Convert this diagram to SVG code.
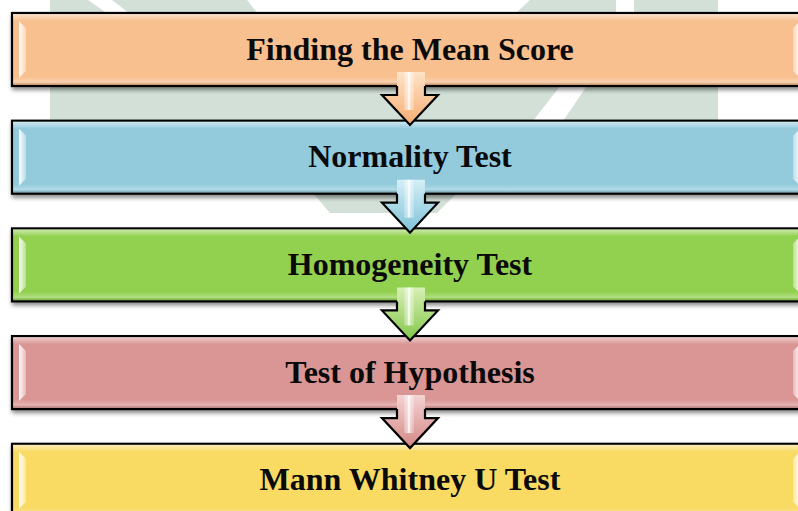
<svg xmlns="http://www.w3.org/2000/svg" width="798" height="511" viewBox="0 0 798 511">
  <defs>
    <style>
      .wm { fill: #d2e0d7; }
      .box { stroke: #000; stroke-width: 2.2; filter: url(#shadow); }
      .sheen { fill: url(#sheenGrad); }
      .bevel-l { fill: url(#bevelL); }
      .bevel-r { fill: url(#bevelR); }
      .label { font-family: "Liberation Serif", "Times New Roman", serif; font-weight: bold; font-size: 32px; fill: #0a0a0a; text-anchor: middle; }
      .arrow-line { fill: none; stroke: #000; stroke-width: 2.2; stroke-linejoin: miter; }
      .glint { fill: url(#glint); }
    </style>
    <filter id="shadow" x="-5%" y="-20%" width="110%" height="150%">
      <feDropShadow dx="1" dy="3" stdDeviation="2" flood-color="#000" flood-opacity="0.45"/>
    </filter>
    <linearGradient id="sheenGrad" x1="0" y1="0" x2="0" y2="1">
      <stop offset="0" stop-color="#fff" stop-opacity="0.55"/>
      <stop offset="0.1" stop-color="#fff" stop-opacity="0"/>
      <stop offset="0.88" stop-color="#fff" stop-opacity="0"/>
      <stop offset="0.96" stop-color="#fff" stop-opacity="0.3"/>
      <stop offset="1" stop-color="#000" stop-opacity="0.12"/>
    </linearGradient>
    <linearGradient id="bevelL" x1="0" y1="0" x2="1" y2="0">
      <stop offset="0" stop-color="#fff" stop-opacity="0.95"/>
      <stop offset="1" stop-color="#fff" stop-opacity="0.35"/>
    </linearGradient>
    <linearGradient id="bevelR" x1="1" y1="0" x2="0" y2="0">
      <stop offset="0" stop-color="#fff" stop-opacity="0.95"/>
      <stop offset="1" stop-color="#fff" stop-opacity="0.35"/>
    </linearGradient>
    <linearGradient id="glint" x1="0" y1="0" x2="1" y2="0">
      <stop offset="0" stop-color="#fff" stop-opacity="0.2"/>
      <stop offset="0.35" stop-color="#fff" stop-opacity="0.5"/>
      <stop offset="0.5" stop-color="#fff" stop-opacity="1"/>
      <stop offset="0.65" stop-color="#fff" stop-opacity="0.5"/>
      <stop offset="1" stop-color="#fff" stop-opacity="0.2"/>
    </linearGradient>
    <linearGradient id="arrowOrange" x1="0" y1="0" x2="0" y2="1">
      <stop offset="0" stop-color="#fde3c8"/>
      <stop offset="1" stop-color="#f6ad72"/>
    </linearGradient>
    <linearGradient id="arrowBlue" x1="0" y1="0" x2="0" y2="1">
      <stop offset="0" stop-color="#d4eef6"/>
      <stop offset="1" stop-color="#7ec2d8"/>
    </linearGradient>
    <linearGradient id="arrowGreen" x1="0" y1="0" x2="0" y2="1">
      <stop offset="0" stop-color="#d6f0b4"/>
      <stop offset="1" stop-color="#84c649"/>
    </linearGradient>
    <linearGradient id="arrowRose" x1="0" y1="0" x2="0" y2="1">
      <stop offset="0" stop-color="#f3d3d2"/>
      <stop offset="1" stop-color="#d48784"/>
    </linearGradient>
    <!-- one step box: sheen and side bevels -->
    <g id="boxDeco">
      <rect class="sheen" x="13" y="1" width="794" height="71"/>
      <polygon class="bevel-l" points="19,8 26,15 26,58 19,65"/>
      <polygon class="bevel-r" points="800,8 793,15 793,58 800,65"/>
    </g>
    <!-- down arrow body -->
    <polygon id="arrowShape" points="397,-14 425,-14 425,9 438,9 410,39 382,9 397,9"/>
  </defs>

  <!-- background emblem -->
  <g id="emblem">
    <polygon class="wm" points="50,0 88,0 108,14 50,14"/>
    <polygon class="wm" points="112,0 247,0 258,14 130,14"/>
    <polygon class="wm" points="530,0 616,0 616,14 515,14"/>
    <rect class="wm" x="634" y="0" width="84" height="14"/>
    <polygon class="wm" points="50,86 560,86 533,121 50,121"/>
    <polygon class="wm" points="587,86 718,86 718,121 563,121"/>
    <polygon class="wm" points="313,193 457,193 437,213 330,213"/>
  </g>

  <g id="step1">
    <rect class="box" x="12" y="13" width="795" height="73" fill="#f8bf8f"/>
    <use href="#boxDeco" transform="translate(0,13)"/>
    <text class="label" x="410" y="60">Finding the Mean Score</text>
  </g>
  <g id="step2">
    <rect class="box" x="12" y="120.7" width="795" height="73" fill="#93cbdc"/>
    <use href="#boxDeco" transform="translate(0,120.7)"/>
    <text class="label" x="410" y="167">Normality Test</text>
  </g>
  <g id="step3">
    <rect class="box" x="12" y="228.4" width="795" height="73" fill="#92d050"/>
    <use href="#boxDeco" transform="translate(0,228.4)"/>
    <text class="label" x="410" y="275">Homogeneity Test</text>
  </g>
  <g id="step4">
    <rect class="box" x="12" y="336.1" width="795" height="73" fill="#d99694"/>
    <use href="#boxDeco" transform="translate(0,336.1)"/>
    <text class="label" x="410" y="383">Test of Hypothesis</text>
  </g>
  <g id="step5">
    <rect class="box" x="12" y="443.8" width="795" height="73" fill="#f9da62"/>
    <use href="#boxDeco" transform="translate(0,443.8)"/>
    <text class="label" x="410" y="490">Mann Whitney U Test</text>
  </g>

  <g id="connectors">
    <g transform="translate(0,86)">
      <use href="#arrowShape" fill="url(#arrowOrange)"/>
      <rect class="glint" x="404" y="-14" width="10" height="38"/>
      <path class="arrow-line" d="M397,0 V9 H382 L410,39 L438,9 H425 V0"/>
    </g>
    <g transform="translate(0,193.7)">
      <use href="#arrowShape" fill="url(#arrowBlue)"/>
      <rect class="glint" x="404" y="-14" width="10" height="38"/>
      <path class="arrow-line" d="M397,0 V9 H382 L410,39 L438,9 H425 V0"/>
    </g>
    <g transform="translate(0,301.4)">
      <use href="#arrowShape" fill="url(#arrowGreen)"/>
      <rect class="glint" x="404" y="-14" width="10" height="38"/>
      <path class="arrow-line" d="M397,0 V9 H382 L410,39 L438,9 H425 V0"/>
    </g>
    <g transform="translate(0,409.1)">
      <use href="#arrowShape" fill="url(#arrowRose)"/>
      <rect class="glint" x="404" y="-14" width="10" height="38"/>
      <path class="arrow-line" d="M397,0 V9 H382 L410,39 L438,9 H425 V0"/>
    </g>
  </g>
</svg>
